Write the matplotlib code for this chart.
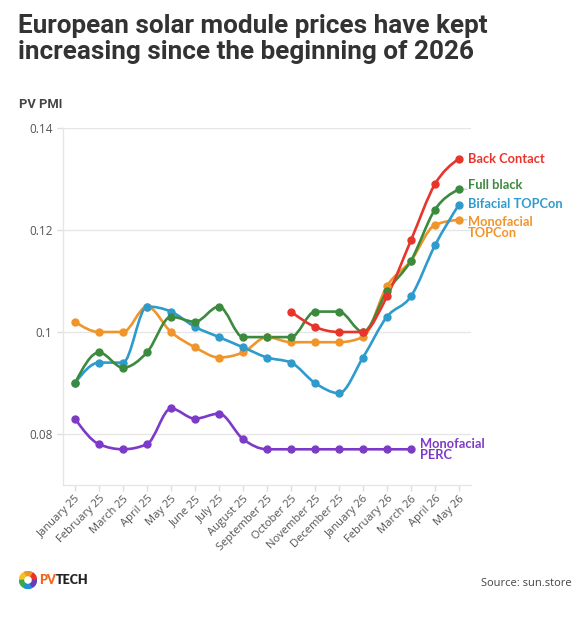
import numpy as np
import matplotlib
matplotlib.use("Agg")
import matplotlib.pyplot as plt
from matplotlib.path import Path
from matplotlib.patches import PathPatch, Wedge

months = ["January 25", "February 25", "March 25", "April 25", "May 25", "June 25",
          "July 25", "August 25", "September 25", "October 25", "November 25",
          "December 25", "January 26", "February 26", "March 26", "April 26", "May 26"]

nan = np.nan
back_contact = [nan] * 9 + [0.104, 0.101, 0.100, 0.100, 0.107, 0.118, 0.129, 0.134]
full_black = [0.090, 0.096, 0.093, 0.096, 0.103, 0.102, 0.105, 0.099, 0.099, 0.099,
              0.104, 0.104, 0.100, 0.108, 0.114, 0.124, 0.128]
bifacial_topcon = [0.090, 0.094, 0.094, 0.105, 0.104, 0.101, 0.099, 0.097, 0.095, 0.094,
                   0.090, 0.088, 0.095, 0.103, 0.107, 0.117, 0.125]
mono_topcon = [0.102, 0.100, 0.100, 0.105, 0.100, 0.097, 0.095, 0.096, 0.099, 0.098,
               0.098, 0.098, 0.099, 0.109, 0.114, 0.121, 0.122]
mono_perc = [0.083, 0.078, 0.077, 0.078, 0.085, 0.083, 0.084, 0.079, 0.077, 0.077,
             0.077, 0.077, 0.077, 0.077, 0.077, nan, nan]

y_ticks = [0.08, 0.1, 0.12, 0.14]
y_labels = ["0.08", "0.1", "0.12", "0.14"]


def monotone_path(x, y):
    # same idea as d3.curveMonotoneX: cubic bezier segments
    n = len(x)
    t = np.zeros(n)
    for i in range(1, n - 1):
        h0, h1 = x[i] - x[i - 1], x[i + 1] - x[i]
        s0, s1 = (y[i] - y[i - 1]) / h0, (y[i + 1] - y[i]) / h1
        p = (s0 * h1 + s1 * h0) / (h0 + h1)
        sg = (1 if s0 >= 0 else -1) + (1 if s1 >= 0 else -1)
        t[i] = sg * min(abs(s0), abs(s1), 0.5 * abs(p))
    t[0] = (3 * (y[1] - y[0]) / (x[1] - x[0]) - t[1]) / 2
    t[-1] = (3 * (y[-1] - y[-2]) / (x[-1] - x[-2]) - t[-2]) / 2
    verts = [(x[0], y[0])]
    codes = [Path.MOVETO]
    for i in range(n - 1):
        dx = (x[i + 1] - x[i]) / 3
        verts += [(x[i] + dx, y[i] + dx * t[i]),
                  (x[i + 1] - dx, y[i + 1] - dx * t[i + 1]),
                  (x[i + 1], y[i + 1])]
        codes += [Path.CURVE4] * 3
    return Path(verts, codes)


fig = plt.figure(figsize=(5.86, 6.17), dpi=100)
ax = fig.add_axes([63 / 586, 1 - 485 / 617, 408 / 586, 357 / 617])

# values, colour, label, label x, label shift (points), leader line
series = [
    (mono_perc, "#7d3ac8", "Monofacial\nPERC", 14.38, 0, False),
    (mono_topcon, "#f0952b", "Monofacial\nTOPCon", 16.38, -5.5, True),
    (bifacial_topcon, "#2e9bcd", "Bifacial TOPCon", 16.38, 0.5, False),
    (full_black, "#3c8a3e", "Full black", 16.38, 3, True),
    (back_contact, "#e8352b", "Back Contact", 16.38, 0, False),
]

xs = np.arange(len(months))
for vals, col, label, lx, dy, leader in series:
    v = np.array(vals, dtype=float)
    ok = ~np.isnan(v)
    px, py = xs[ok].astype(float), v[ok]
    ax.add_patch(PathPatch(monotone_path(px, py), facecolor="none", edgecolor=col,
                           lw=1.9, capstyle="round", joinstyle="round", zorder=3))
    ax.plot(px, py, "o", color=col, ms=5, zorder=4)
    ax.annotate(label, xy=(lx, py[-1]), xytext=(0, dy), textcoords="offset points",
                color=col, fontsize=9.3, fontweight="bold", family="Lato",
                ha="left", va="center", linespacing=0.85, annotation_clip=False)
    if leader:
        ax.annotate("", xy=(px[-1] + 0.15, py[-1]), xytext=(lx - 0.05, py[-1]),
                    textcoords="data",
                    arrowprops=dict(arrowstyle="-", color="#bbbbbb", lw=0.7,
                                    shrinkA=0, shrinkB=0),
                    annotation_clip=False)

ax.set_xlim(-0.5, 16.5)
ax.set_ylim(0.07, 0.14)
ax.set_yticks(y_ticks)
ax.set_yticklabels(y_labels)
ax.set_xticks(xs)
ax.set_xticklabels(months, rotation=45, ha="right", rotation_mode="anchor")
ax.grid(axis="y", color="#e6e6e6", lw=1)
ax.set_axisbelow(True)
for s in ["top", "right"]:
    ax.spines[s].set_visible(False)
for s in ["left", "bottom"]:
    ax.spines[s].set_color("#e6e6e6")
    ax.spines[s].set_linewidth(1)
ax.tick_params(axis="both", color="#dddddd", length=4, width=1,
               labelcolor="#555555", labelsize=8.5)
ax.tick_params(axis="x", pad=2, labelsize=8)
for lab in ax.get_xticklabels() + ax.get_yticklabels():
    lab.set_family("Open Sans")

fig.text(18 / 586, 1 - 14 / 617,
         "European solar module prices have kept\nincreasing since the beginning of 2026",
         ha="left", va="top", fontsize=18.8, fontweight="bold", family="Roboto",
         color="#333333", linespacing=1.08)
fig.text(19 / 586, 1 - 104 / 617, "PV PMI", ha="left", va="center", fontsize=9.3,
         fontweight="bold", family="Roboto", color="#444444")
fig.text(572 / 586, 1 - 583 / 617, "Source: sun.store", ha="right", va="center",
         fontsize=8, family="Open Sans", color="#444444")

# logo
lax = fig.add_axes([19 / 586, 1 - 589 / 617, 18 / 586, 18 / 617])
lax.set_xlim(-1, 1)
lax.set_ylim(-1, 1)
lax.set_aspect("equal")
lax.axis("off")
for a0, c in zip(range(0, 360, 60), ["#e8352b", "#f0952b", "#f6c21c", "#3ca64a", "#1e8fd6", "#6a3db8"]):
    lax.add_patch(Wedge((0, 0), 0.95, a0 + 3, a0 + 57, width=0.45, color=c))
fig.text(39 / 586, 1 - 580 / 617, "PV", ha="left", va="center", fontsize=9,
         fontweight="heavy", family="Lato", color="#f06a22")
fig.text(56 / 586, 1 - 580 / 617, "TECH", ha="left", va="center", fontsize=9,
         fontweight="heavy", family="Lato", color="#222222")

fig.savefig("out.png", dpi=100, facecolor="white")
